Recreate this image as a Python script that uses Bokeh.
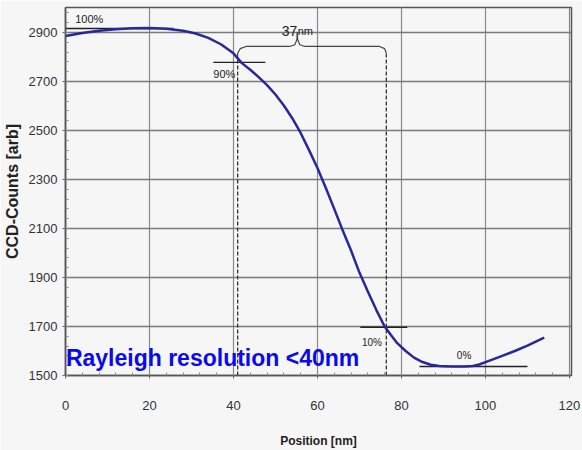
from bokeh.plotting import figure
from bokeh.models import Range1d, FixedTicker, Label
from bokeh.embed import file_html
from bokeh.resources import INLINE

# ---- data ----
position_nm = [0, 4, 8, 12, 16, 20, 24, 28, 31, 34, 37, 40, 42, 44, 46, 48, 50,
               52, 54, 56, 58, 60, 62, 64, 66, 68, 70, 72, 74, 76, 77.5, 79, 81,
               83, 85, 87, 89, 92, 95, 97, 98.5, 101, 104, 107, 110, 114]
ccd_counts = [2886, 2898, 2907, 2913, 2917, 2918, 2915, 2907, 2896, 2878, 2852,
              2815, 2775, 2748, 2718, 2685, 2647, 2602, 2550, 2490, 2420, 2347,
              2265, 2180, 2093, 2010, 1920, 1843, 1768, 1700, 1665, 1632, 1600,
              1573, 1555, 1544, 1539, 1537, 1537, 1539, 1545, 1561, 1580, 1600,
              1622, 1655]

x_ticks = [0, 20, 40, 60, 80, 100, 120]
y_ticks = [1500, 1700, 1900, 2100, 2300, 2500, 2700, 2900]

level_100 = 2916
level_90 = 2778
level_10 = 1697
level_0 = 1537
edge_left = 41.0
edge_right = 76.4
width_label = "37"

# ---- figure ----
BG = "#f6f6f6"
p = figure(width=582, height=450, output_backend="svg", toolbar_location=None,
           x_range=Range1d(0, 120.5), y_range=Range1d(1500, 3002),
           min_border_left=65, min_border_right=11, min_border_top=7,
           min_border_bottom=75)
p.background_fill_color = BG
p.border_fill_color = BG
p.outline_line_color = "#555555"
p.outline_line_width = 1.5

p.xaxis.ticker = FixedTicker(ticks=x_ticks, minor_ticks=list(range(0, 121, 4)))
p.yaxis.ticker = FixedTicker(ticks=y_ticks, minor_ticks=list(range(1500, 3001, 40)))

for ax in (p.xaxis[0], p.yaxis[0]):
    ax.axis_line_color = "#555555"
    ax.axis_line_width = 1.5
    ax.major_tick_in = 0
    ax.major_tick_out = 3
    ax.major_tick_line_color = "#666666"
    ax.minor_tick_in = 3
    ax.minor_tick_out = 0
    ax.minor_tick_line_color = "#888888"
    ax.major_label_text_font = "Liberation Sans"
    ax.major_label_text_font_size = "13px"
    ax.major_label_text_color = "#333333"
    ax.axis_label_text_font = "Liberation Sans"
    ax.axis_label_text_font_style = "bold"
    ax.axis_label_text_color = "#222222"

p.xaxis.axis_label = "Position [nm]"
p.yaxis.axis_label = "CCD-Counts [arb]"
p.xaxis.major_label_standoff = 22
p.xaxis.axis_label_standoff = 21
p.xaxis.axis_label_text_font_size = "12px"
p.yaxis.major_label_standoff = 5
p.yaxis.axis_label_standoff = 5
p.yaxis.axis_label_text_font_size = "16px"

p.xgrid.grid_line_color = "#8a8a8a"
p.xgrid.grid_line_width = 1.2
p.ygrid.grid_line_color = "#7a7a7a"
p.ygrid.grid_line_width = 1.5

# ---- level lines ----
ann = "#222222"
p.line([0, 25.7], [level_100, level_100], line_color=ann, line_width=1.6)
p.line([35.2, 47.6], [level_90, level_90], line_color=ann, line_width=1.4)
p.line([70.2, 81.4], [level_10, level_10], line_color=ann, line_width=1.6)
p.line([84.3, 110], [level_0, level_0], line_color=ann, line_width=1.4)

# vertical dashed edge markers
p.line([edge_left, edge_left], [1500, level_90 + 10], line_color="#333333",
       line_width=1.3, line_dash="4 2")
p.line([edge_right, edge_right], [1500, 2815], line_color="#333333",
       line_width=1.3, line_dash="4 2")

# curly bracket
top_y = 2843
bx_left = [edge_left, edge_left, 41.6, 43.0, 53.4, 54.6, 55.1, 55.2]
by_left = [2790, 2815, 2834, top_y, top_y, 2850, 2870, 2900]
bx_right = [55.2, 55.3, 55.8, 57.0, 74.8, 76.0, edge_right]
by_right = [2900, 2870, 2850, top_y, top_y, 2834, 2815]
p.line(bx_left, by_left, line_color="#444444", line_width=1.2)
p.line(bx_right, by_right, line_color="#444444", line_width=1.2)

# ---- measured curve ----
p.line(position_nm, ccd_counts, line_color="#28289a", line_width=2.5,
       line_join="round")

# ---- text labels ----
def lab(x, y, t, size="11px", align="left", baseline="middle", color="#222222",
        style="normal", font="Liberation Sans", **kw):
    p.add_layout(Label(x=x, y=y, text=t, text_font=font, text_font_size=size,
                       text_align=align, text_baseline=baseline, text_color=color,
                       text_font_style=style, level="overlay", **kw))

lab(2.3, 2957, "100%")
lab(35.2, 2732, "90%")
lab(70.6, 1635, "10%", size="10px")
lab(93.2, 1582, "0%", size="10px")
lab(55.2, 2908, width_label, size="14px", align="right", baseline="alphabetic")
lab(55.3, 2908, "nm", size="11px", align="left", baseline="alphabetic")
lab(0.1, 1573, "Rayleigh resolution <40nm", size="23px", baseline="alphabetic",
    color="#0a0af0", style="bold", font="Liberation Sans")

open("out.html", "w").write(file_html(p, INLINE))
